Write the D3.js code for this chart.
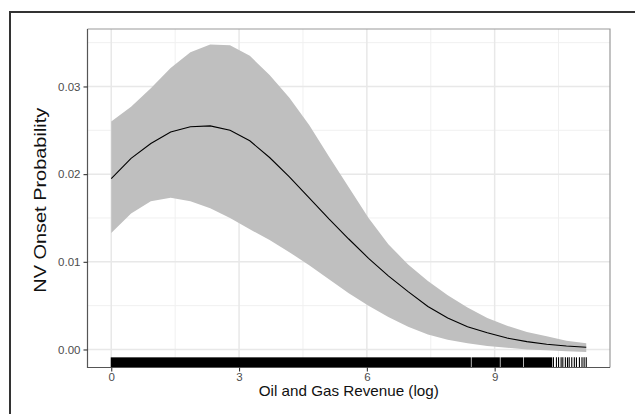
<!DOCTYPE html>
<html>
<head>
<meta charset="utf-8">
<script src="https://cdnjs.cloudflare.com/ajax/libs/d3/7.8.5/d3.min.js"></script>
<style>
  body { margin: 0; background: #fff; }
  svg { display: block; font-family: "Liberation Sans", Arial, sans-serif; }
</style>
</head>
<body>
<div id="chart"></div>
<script>
// effect curve (predicted probability with confidence band)
const revenue = [0, 0.465, 0.929, 1.394, 1.858, 2.323, 2.788, 3.252, 3.717, 4.181,
  4.646, 5.11, 5.575, 6.04, 6.504, 6.969, 7.433, 7.898, 8.363, 8.827,
  9.292, 9.756, 10.221, 10.685, 11.15];
const fitProb = [0.0195, 0.0218, 0.0235, 0.0248, 0.0254, 0.0255, 0.0250, 0.0238, 0.0219, 0.0197,
  0.0173, 0.0149, 0.0126, 0.0104, 0.0084, 0.0066, 0.0049, 0.0036, 0.0026, 0.0019,
  0.0013, 0.0009, 0.0006, 0.0004, 0.00025];
const upperProb = [0.0260, 0.0277, 0.0298, 0.0321, 0.0339, 0.0348, 0.0347, 0.0335, 0.0313, 0.0287,
  0.0256, 0.0220, 0.0185, 0.0150, 0.0120, 0.0097, 0.0078, 0.0062, 0.0048, 0.0036,
  0.0027, 0.0020, 0.0015, 0.0010, 0.0007];
const lowerProb = [0.0133, 0.0155, 0.0169, 0.0173, 0.0169, 0.0161, 0.0150, 0.0137, 0.0125, 0.0111,
  0.0096, 0.0080, 0.0064, 0.0050, 0.0037, 0.0026, 0.0017, 0.0011, 0.0007, 0.0004,
  0.0002, 0.0000, -0.0001, -0.0002, -0.0003];

// rug: dense stretches of observations, then the sparse upper tail
const rugSpans = [[0, 8.43], [8.47, 9.11], [9.15, 9.66], [9.70, 10.34]];
const rugTicks = [10.38, 10.45, 10.50, 10.56, 10.60, 10.66, 10.71, 10.75, 10.81, 10.87,
  10.92, 10.99, 11.05, 11.10, 11.15];

const xTicks = [0, 3, 6, 9];
const xMinor = [1.5, 4.5, 7.5, 10.5];
const yTicks = [0, 0.01, 0.02, 0.03];
const yMinor = [0.005, 0.015, 0.025, 0.035];

const W = 635, H = 414;
const panel = { left: 87.5, right: 610, top: 29, bottom: 367.5 };

const svg = d3.select('#chart').append('svg')
  .attr('width', W)
  .attr('height', H);

// outer frame
svg.append('path')
  .attr('d', `M10,${H + 2}V12H${W + 2}`)
  .attr('fill', 'none')
  .attr('stroke', '#333')
  .attr('stroke-width', 2);

const xExt = d3.extent(revenue);
const xPad = (xExt[1] - xExt[0]) * 0.05;
const x = d3.scaleLinear()
  .domain([xExt[0] - xPad, xExt[1] + xPad])
  .range([panel.left, panel.right]);

const yMin = d3.min(lowerProb), yMax = d3.max(upperProb);
const yPad = (yMax - yMin) * 0.05;
const y = d3.scaleLinear()
  .domain([yMin - yPad, yMax + yPad])
  .range([panel.bottom, panel.top]);

// grid
const grid = svg.append('g');
xMinor.forEach(v => grid.append('line')
  .attr('x1', x(v)).attr('x2', x(v)).attr('y1', panel.top).attr('y2', panel.bottom)
  .attr('stroke', '#f0f0f0').attr('stroke-width', 1));
yMinor.forEach(v => grid.append('line')
  .attr('y1', y(v)).attr('y2', y(v)).attr('x1', panel.left).attr('x2', panel.right)
  .attr('stroke', '#f0f0f0').attr('stroke-width', 1));
xTicks.forEach(v => grid.append('line')
  .attr('x1', x(v)).attr('x2', x(v)).attr('y1', panel.top).attr('y2', panel.bottom)
  .attr('stroke', '#e8e8e8').attr('stroke-width', 1.5));
yTicks.forEach(v => grid.append('line')
  .attr('y1', y(v)).attr('y2', y(v)).attr('x1', panel.left).attr('x2', panel.right)
  .attr('stroke', '#e8e8e8').attr('stroke-width', 1.5));

// confidence ribbon
const pts = revenue.map((r, i) => ({ r, fit: fitProb[i], lo: lowerProb[i], hi: upperProb[i] }));
svg.append('path')
  .datum(pts)
  .attr('fill', '#bfbfbf')
  .attr('d', d3.area()
    .x(d => x(d.r))
    .y0(d => y(d.lo))
    .y1(d => y(d.hi)));

svg.append('path')
  .datum(pts)
  .attr('fill', 'none')
  .attr('stroke', '#000')
  .attr('stroke-width', 1.1)
  .attr('d', d3.line()
    .x(d => x(d.r))
    .y(d => y(d.fit)));

// rug
const rugLen = (panel.bottom - panel.top) * 0.03;
const rug = svg.append('g');
rugSpans.forEach(s => rug.append('rect')
  .attr('x', x(s[0]) - 0.5)
  .attr('width', x(s[1]) - x(s[0]) + 1)
  .attr('y', panel.bottom - rugLen)
  .attr('height', rugLen)
  .attr('fill', '#000'));
rugTicks.forEach(v => rug.append('line')
  .attr('x1', x(v)).attr('x2', x(v))
  .attr('y1', panel.bottom - rugLen).attr('y2', panel.bottom)
  .attr('stroke', '#000').attr('stroke-width', 1.1));

// panel border
svg.append('path')
  .attr('d', `M${panel.left},${panel.top}H${panel.right}V${panel.bottom}`)
  .attr('fill', 'none')
  .attr('stroke', '#999')
  .attr('stroke-width', 1.2);
svg.append('path')
  .attr('d', `M${panel.left},${panel.top}V${panel.bottom}H${panel.right}`)
  .attr('fill', 'none')
  .attr('stroke', '#555')
  .attr('stroke-width', 1.2);

// axes
const xAxis = svg.append('g')
  .attr('transform', `translate(0,${panel.bottom})`)
  .call(d3.axisBottom(x).tickValues(xTicks).tickSize(4).tickPadding(1).tickFormat(d3.format('d')));
const yAxis = svg.append('g')
  .attr('transform', `translate(${panel.left},0)`)
  .call(d3.axisLeft(y).tickValues(yTicks).tickSize(4).tickPadding(3).tickFormat(d3.format('.2f')));
[xAxis, yAxis].forEach(a => {
  a.select('.domain').remove();
  a.selectAll('.tick line').attr('stroke', '#333').attr('stroke-width', 1.1);
  a.selectAll('.tick text')
    .attr('fill', '#4d4d4d')
    .style('font-size', '11.5px')
    .style('font-family', '"Liberation Sans", Arial, sans-serif');
});

svg.append('text')
  .attr('x', (panel.left + panel.right) / 2)
  .attr('y', 396)
  .attr('text-anchor', 'middle')
  .attr('fill', '#111')
  .attr('textLength', 180)
  .attr('lengthAdjust', 'spacingAndGlyphs')
  .style('font-size', '15px')
  .text('Oil and Gas Revenue (log)');

svg.append('text')
  .attr('transform', `translate(46,${(panel.top + panel.bottom) / 2 + 2}) rotate(-90)`)
  .attr('text-anchor', 'middle')
  .attr('fill', '#111')
  .attr('textLength', 185)
  .attr('lengthAdjust', 'spacingAndGlyphs')
  .style('font-size', '17px')
  .text('NV Onset Probability');
</script>
</body>
</html>
